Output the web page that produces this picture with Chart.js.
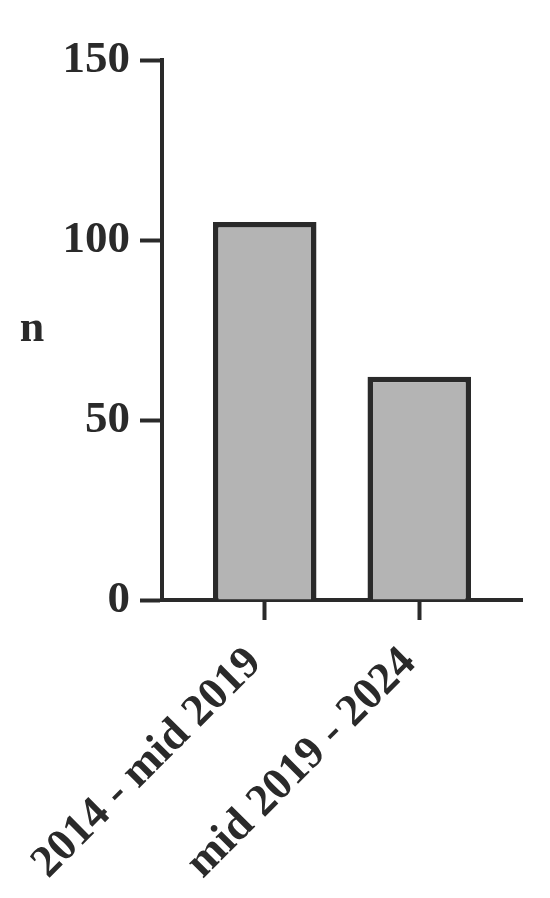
<!DOCTYPE html>
<html>
<head>
<meta charset="utf-8">
<script src="https://cdn.jsdelivr.net/npm/chart.js@4"></script>
<style>
  html, body { margin: 0; padding: 0; background: #ffffff; }
  #wrap { width: 550px; height: 898px; }
</style>
</head>
<body>
<div id="wrap"><canvas id="chart" width="550" height="898"></canvas></div>
<script>
// Chart data
const categories = ['2014 - mid 2019', 'mid 2019 - 2024'];
const counts = [105, 62];
const yTicks = [0, 50, 100, 150];

const ink = '#2a2a2a';
const fontFamily = '"Liberation Serif", "DejaVu Serif", serif';

// Horizontal "n" label left of the y axis
const yLabelPlugin = {
  id: 'yLabel',
  afterDraw(chart) {
    const ctx = chart.ctx;
    const area = chart.chartArea;
    ctx.save();
    ctx.fillStyle = ink;
    ctx.font = 'bold 44px ' + fontFamily;
    ctx.textAlign = 'center';
    ctx.textBaseline = 'middle';
    ctx.fillText('n', 32, (area.top + area.bottom) / 2);
    ctx.restore();
  }
};

new Chart(document.getElementById('chart').getContext('2d'), {
  type: 'bar',
  data: {
    datasets: [{
      label: 'n',
      data: categories.map((c, i) => ({ x: i, y: counts[i] })),
      backgroundColor: '#b4b4b4',
      borderColor: ink,
      borderWidth: 5.5,
      barPercentage: 0.67,
      categoryPercentage: 1
    }]
  },
  options: {
    responsive: false,
    animation: false,
    layout: { padding: { top: 60, right: 28, left: 0, bottom: 0 } },
    plugins: {
      legend: { display: false },
      tooltip: { enabled: false }
    },
    scales: {
      x: {
        type: 'linear',
        offset: false,
        min: -0.665,
        max: 1.665,
        afterBuildTicks(axis) {
          axis.ticks = categories.map((c, i) => ({ value: i }));
        },
        afterFit(axis) {
          // fixed height, and no extra side padding from the rotated labels
          axis.height = 298;
          axis.paddingLeft = 0;
          axis.paddingRight = 0;
        },
        border: { display: true, color: ink, width: 4 },
        grid: {
          offset: false,
          drawOnChartArea: false,
          drawTicks: true,
          tickLength: 20,
          tickWidth: 4,
          tickColor: ink
        },
        ticks: {
          minRotation: 45,
          maxRotation: 45,
          autoSkip: false,
          padding: 17,
          labelOffset: -10,
          color: ink,
          font: { family: fontFamily, size: 45, weight: 'bold' },
          callback: (v) => categories[v]
        }
      },
      y: {
        min: 0,
        max: 150,
        afterBuildTicks(axis) {
          axis.ticks = yTicks.map(v => ({ value: v }));
        },
        afterFit(axis) {
          axis.width = 162;
        },
        border: { display: true, color: ink, width: 4 },
        grid: {
          drawOnChartArea: false,
          drawTicks: true,
          tickLength: 22,
          tickWidth: 4,
          tickColor: ink
        },
        ticks: {
          padding: 10,
          color: ink,
          font: { family: fontFamily, size: 45, weight: 'bold' }
        }
      }
    }
  },
  plugins: [yLabelPlugin]
});
</script>
</body>
</html>
